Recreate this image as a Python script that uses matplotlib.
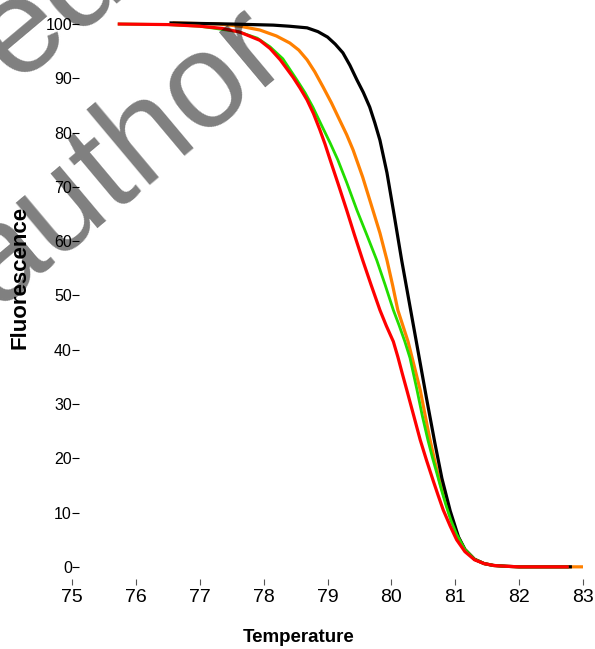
import matplotlib.pyplot as plt

plt.rcParams['font.family'] = ['Liberation Sans', 'DejaVu Sans']

# melt curves (temperature, fluorescence)
black_t = [76.55, 77.5, 78.15, 78.4, 78.68, 78.85, 79.0, 79.12, 79.24, 79.35, 79.46, 79.56,
           79.66, 79.74, 79.82, 79.93, 80.03, 80.16, 80.29, 80.42, 80.55, 80.68, 80.79,
           80.92, 81.05, 81.15, 81.3, 81.45, 81.6, 81.8, 82.0, 82.8]
black_f = [100.2, 100.0, 99.8, 99.6, 99.3, 98.6, 97.6, 96.3, 94.7, 92.4, 89.7, 87.4,
           84.7, 81.8, 78.6, 72.6, 65.7, 56.5, 48.0, 39.5, 31.0, 22.8, 16.3,
           10.3, 5.5, 3.2, 1.4, 0.6, 0.25, 0.1, 0.0, 0.0]

orange_t = [76.6, 77.3, 77.63, 77.94, 78.2, 78.41, 78.55, 78.68, 78.8, 78.93, 79.06, 79.19,
            79.30, 79.40, 79.55, 79.71, 79.82, 79.93, 80.02, 80.10, 80.18, 80.26, 80.35,
            80.45, 80.53, 80.60, 80.68, 80.76, 80.9, 81.02, 81.15, 81.3, 81.45, 81.6,
            81.8, 82.0, 83.0]
orange_f = [100.2, 100.0, 99.6, 98.9, 97.8, 96.5, 95.2, 93.4, 91.2, 88.4, 85.5, 82.3,
            79.6, 76.8, 71.8, 65.7, 61.5, 56.5, 51.8, 47.3, 44.4, 41.5, 37.3,
            32.6, 27.8, 23.6, 19.4, 15.5, 10.0, 6.0, 3.2, 1.4, 0.6, 0.25,
            0.1, 0.0, 0.0]

green_t = [75.74, 76.5, 77.0, 77.6, 77.9, 78.1, 78.3, 78.52, 78.65, 78.77, 78.9, 79.04,
           79.16, 79.30, 79.46, 79.62, 79.77, 79.9, 80.03, 80.12, 80.21, 80.29, 80.40,
           80.48, 80.57, 80.64, 80.71, 80.78, 80.85, 80.93, 81.02, 81.15, 81.3, 81.45,
           81.6, 81.8, 82.0, 82.75]
green_f = [100.0, 99.9, 99.6, 98.6, 97.4, 95.8, 93.6, 89.7, 87.3, 84.7, 81.5, 78.1,
           75.0, 70.8, 65.7, 61.0, 56.5, 52.0, 47.3, 44.5, 41.5, 38.5, 32.6,
           28.0, 23.4, 20.2, 17.3, 14.3, 11.5, 8.6, 6.0, 3.2, 1.4, 0.6,
           0.25, 0.1, 0.0, 0.0]

red_t = [75.74, 76.5, 77.0, 77.35, 77.63, 77.94, 78.1, 78.26, 78.46, 78.57, 78.68, 78.78,
         78.88, 78.96, 79.04, 79.17, 79.30, 79.42, 79.55, 79.68, 79.82, 79.92, 80.03,
         80.10, 80.17, 80.24, 80.35, 80.45, 80.55, 80.65, 80.73, 80.81, 80.92, 81.02,
         81.15, 81.3, 81.45, 81.6, 81.8, 82.0, 82.75]
red_f = [100.0, 99.9, 99.6, 99.2, 98.5, 97.0, 95.5, 93.4, 90.2, 88.2, 86.0, 83.5,
         80.5, 77.9, 75.0, 70.4, 65.7, 61.2, 56.5, 52.0, 47.3, 44.4, 41.5,
         38.7, 35.6, 32.6, 27.8, 23.4, 19.6, 16.0, 13.2, 10.5, 7.5, 5.0,
         2.8, 1.3, 0.6, 0.25, 0.1, 0.0, 0.0]

x_ticks = [75, 76, 77, 78, 79, 80, 81, 82, 83]
y_ticks = [0, 10, 20, 30, 40, 50, 60, 70, 80, 90, 100]

fig = plt.figure(figsize=(5.95, 6.49), dpi=100)
ax = fig.add_axes([0.121, 0.099, 0.859, 0.874])

ax.plot(orange_t, orange_f, color='#ff8000', lw=2.3, zorder=1)
ax.plot(black_t, black_f, color='black', lw=2.3, zorder=2)
ax.plot(green_t, green_f, color='#22dd00', lw=2.0, zorder=3)
ax.plot(red_t, red_f, color='#ff0000', lw=2.3, zorder=4)

ax.set_xlim(75, 83)
ax.set_ylim(-3.3, 101.2)
ax.set_xticks(x_ticks)
ax.set_yticks(y_ticks)
for s in ax.spines.values():
    s.set_visible(False)
ax.tick_params(axis='x', direction='in', length=4, width=0.8, color='#555555',
               labelsize=14, pad=3)
ax.tick_params(axis='y', direction='in', length=5, width=0.8, color='black',
               labelsize=11.5, pad=0)

fig.text(0.502, 0.004, 'Temperature', ha='center', va='bottom',
         fontsize=13.5, fontweight='bold')
fig.text(0.034, 0.572, 'Fluorescence', ha='center', va='center', rotation=90,
         fontsize=16, fontweight='bold')

# watermark
fig.text(0.205, 0.757, 'author', ha='center', va='center', rotation=40,
         rotation_mode='anchor', fontsize=98, color='black', alpha=0.5, zorder=10)
fig.text(0.06, 0.975, 'Pre-edited', ha='center', va='center', rotation=40,
         rotation_mode='anchor', fontsize=98, color='black', alpha=0.5, zorder=10)

fig.savefig('out.png', dpi=100)
